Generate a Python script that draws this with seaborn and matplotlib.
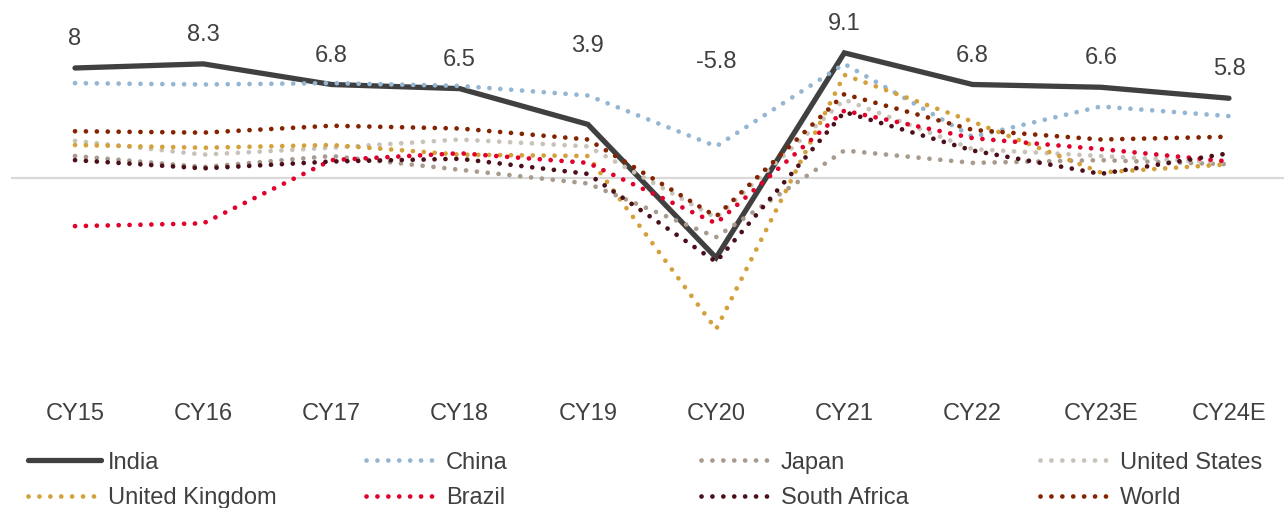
import matplotlib
matplotlib.use("Agg")
import matplotlib.pyplot as plt
from matplotlib.lines import Line2D
import seaborn as sns

# GDP growth (%), calendar years
years = ["CY15", "CY16", "CY17", "CY18", "CY19", "CY20", "CY21", "CY22", "CY23E", "CY24E"]
india = [8.0, 8.3, 6.8, 6.5, 3.9, -5.8, 9.1, 6.8, 6.6, 5.8]
china = [6.9, 6.8, 6.9, 6.7, 6.0, 2.3, 8.3, 3.0, 5.2, 4.5]
japan = [1.6, 0.8, 1.6, 0.6, -0.4, -4.3, 2.0, 1.1, 1.3, 1.0]
united_states = [2.7, 1.7, 2.2, 2.8, 2.3, -2.9, 5.7, 2.1, 1.6, 1.1]
united_kingdom = [2.4, 2.2, 2.4, 1.7, 1.6, -11.0, 7.5, 4.1, 0.4, 1.0]
brazil = [-3.5, -3.3, 1.3, 1.8, 1.1, -3.3, 4.9, 2.9, 2.1, 1.2]
south_africa = [1.3, 0.7, 1.2, 1.4, 0.3, -6.1, 4.8, 2.0, 0.3, 1.8]
world = [3.4, 3.3, 3.8, 3.6, 2.8, -2.8, 6.1, 3.5, 2.8, 3.0]

series_names = ["India", "China", "Japan", "United States",
                "United Kingdom", "Brazil", "South Africa", "World"]
series_values = [india, china, japan, united_states,
                 united_kingdom, brazil, south_africa, world]
series_colors = ["#404040", "#94B6D2", "#A89B8E", "#C9C2B9",
                 "#D4A03A", "#E0002B", "#4A0F19", "#842300"]

sns.set_theme(style="white")
plt.rcParams["font.family"] = ["Liberation Sans", "DejaVu Sans"]
text_color = "#404040"
fs = 17.0

fig = plt.figure(figsize=(12.84, 5.08), dpi=100)
W, H = 1284, 508
# axes span: x from -0.5 to 9.5 categories, y from -15 to 12
ax = fig.add_axes([10.9 / W, (H - 384.25) / H, 1282.2 / W, 371.25 / H])
ax.set_xlim(-0.5, 9.5)
ax.set_ylim(-15, 12)

ax.axhline(0, color="#D9D9D9", lw=1.6, zorder=0)

dotted = (0, (0.01, 2.3))
handles = []
for name, vals, col in zip(series_names, series_values, series_colors):
    if name == "India":
        kw = dict(lw=3.8, linestyle="-", solid_capstyle="round",
                  solid_joinstyle="miter")
    else:
        kw = dict(lw=3.4, linestyle=dotted, dash_capstyle="round")
    sns.lineplot(x=list(range(len(years))), y=vals, ax=ax, color=col,
                 sort=False, legend=False, **kw)
    handles.append(Line2D([], [], color=col, **kw))

# value labels for India, placed above each point (pixel offsets)
label_offsets = [23, 23, 23, 23, 72, 190, 23, 23, 23, 23]
for i, (v, off) in enumerate(zip(india, label_offsets)):
    ax.annotate(f"{v:g}", xy=(i, v), xytext=(0, off), textcoords="offset pixels",
                ha="center", va="baseline", fontsize=fs, color=text_color,
                annotation_clip=False)

ax.set_xticks(range(len(years)))
ax.set_xticklabels(years, fontsize=fs, color=text_color)
ax.tick_params(axis="x", length=0, pad=13.5)
ax.set_yticks([])
for sp in ax.spines.values():
    sp.set_visible(False)
ax.set_facecolor("none")

# legend: four columns, two rows each
col_x = [28, 366, 701, 1040]
for c in range(4):
    hs = [handles[c], handles[c + 4]]
    ls = [series_names[c], series_names[c + 4]]
    fig.legend(hs, ls, loc="center left",
               bbox_to_anchor=(col_x[c] / W, 1 - 480.5 / H),
               frameon=False, fontsize=fs, labelcolor=text_color,
               handlelength=3.1, handletextpad=0.28, borderpad=0,
               borderaxespad=0, labelspacing=0.58)

fig.savefig("out.png", dpi=100)
